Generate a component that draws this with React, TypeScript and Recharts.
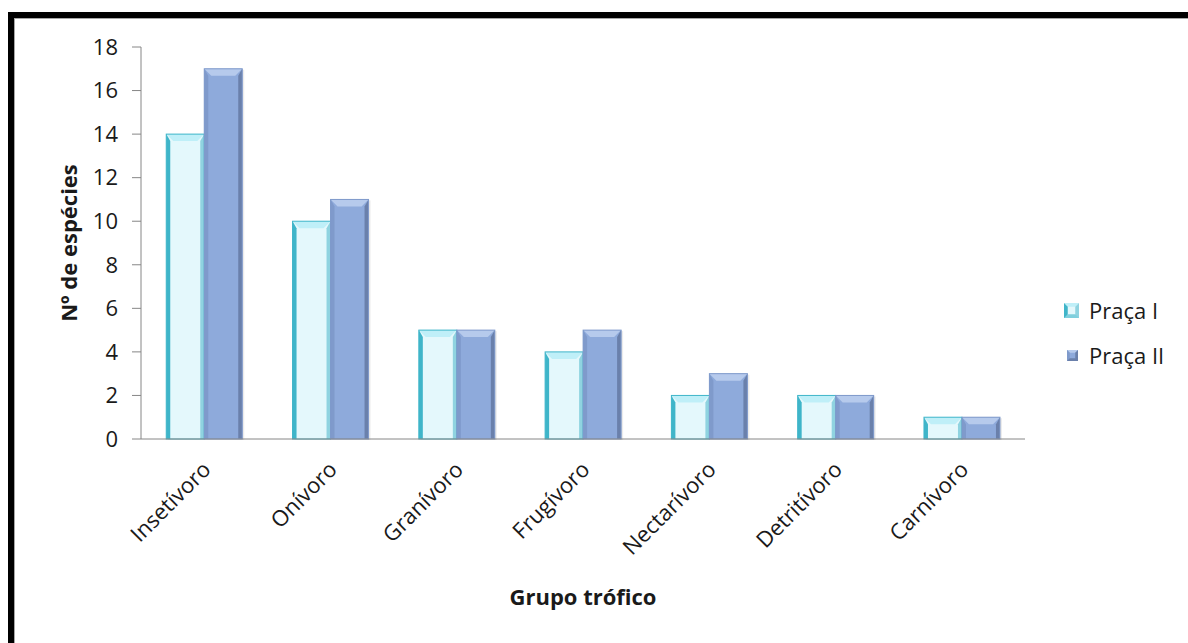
import React from 'react';
import { BarChart, Bar, XAxis, YAxis } from 'recharts';

const categories = ['Insetívoro', 'Onívoro', 'Granívoro', 'Frugívoro', 'Nectarívoro', 'Detritívoro', 'Carnívoro'];
const pracaI = [14, 10, 5, 4, 2, 2, 1];
const pracaII = [17, 11, 5, 5, 3, 2, 1];
const yTicks = [0, 2, 4, 6, 8, 10, 12, 14, 16, 18];

const data = categories.map((grupo, i) => ({ grupo, pracaI: pracaI[i], pracaII: pracaII[i] }));

const FONT = '"Open Sans", "Liberation Sans", sans-serif';

const palettes: Record<string, { face: string; top: string; left: string; right: string; bottom: string }> = {
  pracaI: { face: '#e4f8fc', top: '#bfeff8', left: '#3fb5c9', right: '#8fd3e0', bottom: '#7fcfdd' },
  pracaII: { face: '#8eaadb', top: '#b6caec', left: '#7f9acb', right: '#6a80ab', bottom: '#6a80ab' },
};

const BevelBar = (props: any) => {
  const { x, y, width, height, dataKey } = props;
  if (!height || height <= 0) return null;
  const p = palettes[dataKey];
  const b = Math.min(7, height / 2, width / 4);
  const s = Math.min(4, width / 6);
  return (
    <g>
      <rect x={x + 2} y={y + 1} width={width} height={height} fill="#000" opacity={0.08} />
      <rect x={x} y={y} width={width} height={height} fill={p.face} />
      <polygon points={`${x},${y} ${x + width},${y} ${x + width - b},${y + b} ${x + b},${y + b}`} fill={p.top} />
      <polygon points={`${x},${y} ${x + s},${y + b} ${x + s},${y + height} ${x},${y + height}`} fill={p.left} />
      <polygon points={`${x + width},${y} ${x + width - s},${y + b} ${x + width - s},${y + height} ${x + width},${y + height}`} fill={p.right} />
      <rect x={x} y={y} width={width} height={height} fill="none" stroke={p.left} strokeWidth={1} />
    </g>
  );
};

const XTick = (props: any) => {
  const { x, y, payload } = props;
  const tx = x + 8;
  const ty = y + 24;
  return (
    <text x={tx} y={ty} textAnchor="end" fontFamily={FONT} fontSize={22} fill="#1a1a1a" transform={`rotate(-45, ${tx}, ${ty})`}>
      {payload.value}
    </text>
  );
};

const LegendSwatch = ({ k, size }: { k: string; size: number }) => {
  const p = palettes[k];
  const b = size / 4;
  return (
    <svg width={size} height={size} style={{ display: 'block' }}>
      <rect x={0} y={0} width={size} height={size} fill={p.face} />
      <polygon points={`0,0 ${size},0 ${size - b},${b} ${b},${b}`} fill={p.top} />
      <polygon points={`0,0 ${b},${b} ${b},${size} 0,${size}`} fill={p.left} />
      <polygon points={`${size},0 ${size - b},${b} ${size - b},${size} ${size},${size}`} fill={p.right} />
      <polygon points={`0,${size} ${b},${size - b} ${size - b},${size - b} ${size},${size}`} fill={p.bottom} />
    </svg>
  );
};

export default function App() {
  return (
    <div style={{ position: 'absolute', left: 0, top: 0, width: 1188, height: 643, background: '#fff', overflow: 'hidden' }}>
      <div
        style={{
          position: 'absolute',
          left: 8,
          top: 12,
          right: 0,
          bottom: 0,
          borderTop: '6px solid #000',
          borderLeft: '6px solid #000',
        }}
      >
        <div style={{ position: 'absolute', left: 0, top: 0, right: 0, bottom: 0, borderTop: '1px solid #a6a6a6', borderLeft: '1px solid #a6a6a6' }} />
      </div>
      <div style={{ position: 'absolute', left: 0, top: 0 }}>
        <BarChart
          width={1188}
          height={643}
          data={data}
          margin={{ top: 47, right: 163, bottom: 0, left: 81 }}
          barCategoryGap="20%"
          barGap={0}
        >
          <XAxis
            dataKey="grupo"
            axisLine={{ stroke: '#868686' }}
            tickLine={false}
            tick={<XTick />}
            interval={0}
            height={204}
            label={{ value: 'Grupo trófico', position: 'insideBottom', offset: 38, fontFamily: FONT, fontSize: 22, fontWeight: 'bold', fill: '#1a1a1a' }}
          />
          <YAxis
            domain={[0, 18]}
            ticks={yTicks}
            interval={0}
            width={60}
            axisLine={{ stroke: '#868686' }}
            tickLine={{ stroke: '#868686' }}
            tickSize={9}
            tickMargin={14}
            tick={{ fontFamily: FONT, fontSize: 22, fill: '#1a1a1a' }}
            label={{ value: 'Nº de espécies', angle: -90, position: 'insideLeft', offset: -12, fontFamily: FONT, fontSize: 22, fontWeight: 'bold', fill: '#1a1a1a', style: { textAnchor: 'middle' } }}
          />
          <Bar dataKey="pracaI" name="Praça I" shape={<BevelBar />} isAnimationActive={false} />
          <Bar dataKey="pracaII" name="Praça II" shape={<BevelBar />} isAnimationActive={false} />
        </BarChart>
      </div>
      <div style={{ position: 'absolute', left: 1064, top: 293, fontFamily: FONT, fontSize: 22, color: '#1a1a1a' }}>
        <div style={{ display: 'flex', alignItems: 'center', height: 34 }}>
          <div style={{ width: 25 }}><LegendSwatch k="pracaI" size={15} /></div>
          <span>Praça I</span>
        </div>
        <div style={{ display: 'flex', alignItems: 'center', height: 34, marginTop: 11 }}>
          <div style={{ width: 22, paddingLeft: 3 }}><LegendSwatch k="pracaII" size={11} /></div>
          <span>Praça II</span>
        </div>
      </div>
    </div>
  );
}
